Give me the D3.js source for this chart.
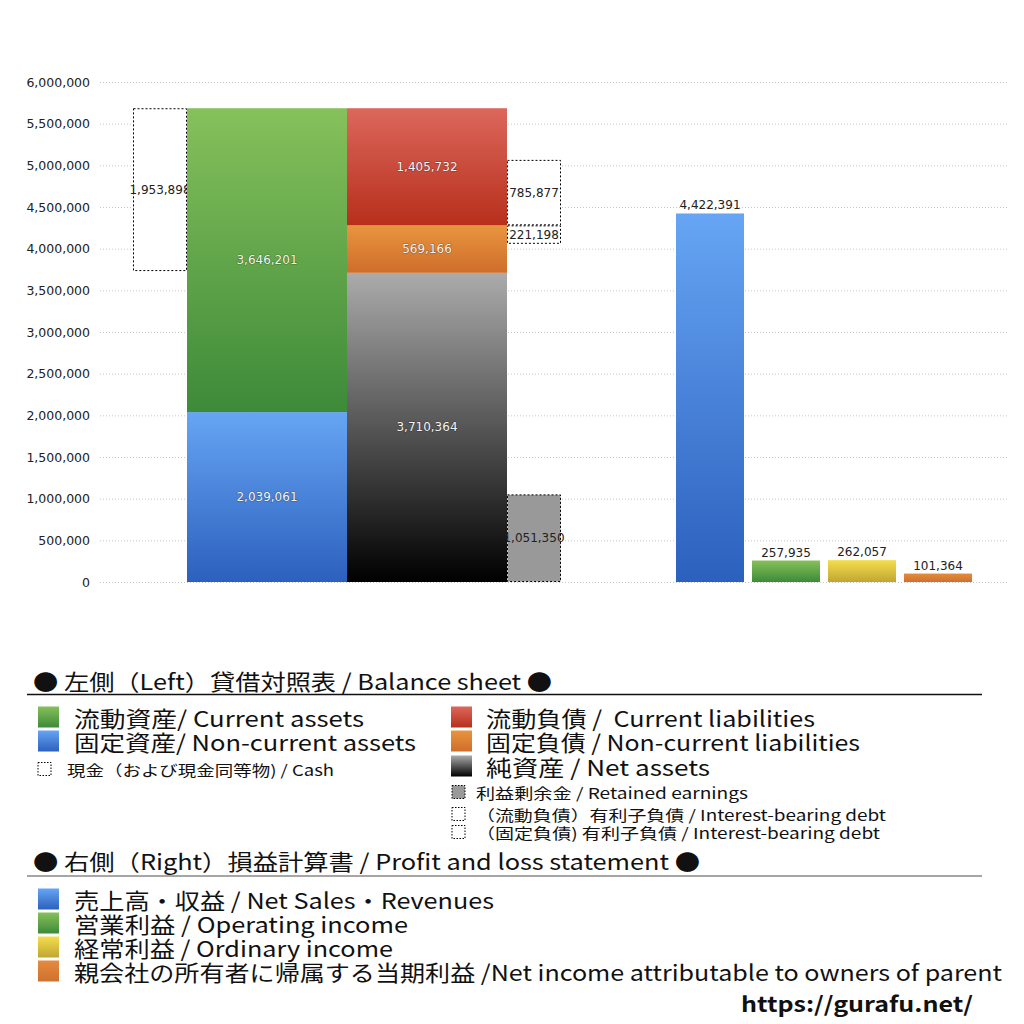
<!DOCTYPE html>
<html><head><meta charset="utf-8">
<script src="https://cdn.jsdelivr.net/npm/d3@7"></script>
<style>
html,body{margin:0;padding:0;background:#fff;}
text{font-family:"Noto Sans CJK JP","Noto Sans",sans-serif;}
text.num{font-family:"DejaVu Sans",sans-serif;}
</style></head>
<body><svg id="c" width="1024" height="1024"></svg>
<script>
// ---- data ----
const yTicks = [0,500000,1000000,1500000,2000000,2500000,3000000,3500000,4000000,4500000,5000000,5500000,6000000];
const bsColumns = ["assets","liabilities"];
const assetNames = ["固定資産","流動資産"];
const assetValues = [2039061, 3646201];
const liabNames = ["純資産","固定負債","流動負債"];
const liabValues = [3710364, 569166, 1405732];
const cashValue = 1953898;
const retainedEarnings = 1051350;
const debtCurrent = 785877;
const debtNonCurrent = 221198;
const plCategories = ["売上高・収益","営業利益","経常利益","親会社の所有者に帰属する当期利益"];
const plValues = [4422391, 257935, 262057, 101364];

const svg = d3.select("#c");
const defs = svg.append("defs");
function grad(id, top, bottom){
  const g = defs.append("linearGradient").attr("id",id).attr("x1",0).attr("y1",0).attr("x2",0).attr("y2",1);
  g.append("stop").attr("offset","0%").attr("stop-color",top);
  g.append("stop").attr("offset","100%").attr("stop-color",bottom);
}
grad("gGreen","#86c15b","#3d8a39");
grad("gBlue","#66a5f4","#2c60bd");
grad("gRed","#dc675c","#b72f1b");
grad("gOrange","#e8953f","#cf6d2b");
grad("gGray","#ababab","#000000");
grad("gYellow","#f3de4c","#c2a533");
grad("gOrange2","#e48b3d","#d0702e");

const y = d3.scaleLinear().domain([0,6000000]).range([582,82]);
const fmt = d3.format(",");

// grid + axis
const axis = d3.axisLeft(y).tickValues(yTicks).tickFormat(fmt).tickSize(0).tickPadding(0);
const ax = svg.append("g").attr("transform","translate(90,0)").call(axis);
ax.select(".domain").remove();
ax.selectAll("text").attr("class","num").attr("font-size",12.5).attr("fill","#222");
svg.append("g").selectAll("line").data(yTicks).join("line")
  .attr("x1",100).attr("x2",1007).attr("y1",d=>y(d)+0.5).attr("y2",d=>y(d)+0.5)
  .attr("stroke","#c8c8c8").attr("stroke-width",1).attr("stroke-dasharray","1,2");

// balance sheet scale
const xb = d3.scaleBand().domain(bsColumns).range([187,507]).padding(0);
const bw = xb.bandwidth();
const sideW = bw*0.3375;
const totalAssets = d3.sum(assetValues);

function dashedBox(x0, v0, v1, fill, label){
  svg.append("rect").attr("x",x0+0.5).attr("width",sideW-1)
    .attr("y",y(v1)+0.5).attr("height",y(v0)-y(v1)-1)
    .attr("fill",fill).attr("stroke","#000").attr("stroke-width",1).attr("stroke-dasharray","2,2");
  svg.append("text").attr("class","num").attr("x",x0+sideW/2).attr("y",(y(v0)+y(v1))/2)
    .attr("text-anchor","middle").attr("dominant-baseline","central")
    .attr("font-size",12).attr("fill","#222").text(fmt(label));
}
// side boxes (drawn first; main bars overlap their labels)
dashedBox(xb("assets")-sideW, totalAssets-cashValue, totalAssets, "#fff", cashValue);
const liabBottomCur = liabValues[0]+liabValues[1];
dashedBox(xb("liabilities")+bw, liabBottomCur, liabBottomCur+debtCurrent, "#fff", debtCurrent);
dashedBox(xb("liabilities")+bw, liabBottomCur-debtNonCurrent, liabBottomCur, "#fff", debtNonCurrent);
dashedBox(xb("liabilities")+bw, 0, retainedEarnings, "#999", retainedEarnings);

// stacked bars
function stack(col, values, fills){
  let acc = 0;
  const segs = values.map((v,i)=>{const s={v,y0:acc,y1:acc+v,fill:fills[i]}; acc+=v; return s;});
  const g = svg.append("g");
  g.selectAll("rect").data(segs).join("rect")
    .attr("x",xb(col)).attr("width",bw)
    .attr("y",d=>y(d.y1)).attr("height",d=>y(d.y0)-y(d.y1))
    .attr("fill",d=>`url(#${d.fill})`);
  g.selectAll("text").data(segs).join("text").attr("class","num")
    .attr("x",xb(col)+bw/2).attr("y",d=>(y(d.y0)+y(d.y1))/2)
    .attr("text-anchor","middle").attr("dominant-baseline","central")
    .attr("font-size",12).attr("fill","#f4f4f4")
    .style("paint-order","stroke").attr("stroke","rgba(0,0,0,0.3)").attr("stroke-width",1.2)
    .text(d=>fmt(d.v));
}
stack("assets", assetValues, ["gBlue","gGreen"]);
stack("liabilities", liabValues, ["gGray","gOrange","gRed"]);

// profit & loss
const xp = d3.scaleBand().domain(plCategories).range([676,972]).paddingInner(8/76).paddingOuter(0);
const plFills = ["gBlue","gGreen","gYellow","gOrange2"];
svg.append("g").selectAll("rect").data(plCategories).join("rect")
  .attr("x",d=>xp(d)).attr("width",xp.bandwidth())
  .attr("y",(d,i)=>y(plValues[i])).attr("height",(d,i)=>y(0)-y(plValues[i]))
  .attr("fill",(d,i)=>`url(#${plFills[i]})`);
svg.append("g").selectAll("text").data(plCategories).join("text").attr("class","num")
  .attr("x",d=>xp(d)+xp.bandwidth()/2).attr("y",(d,i)=>y(plValues[i])-4)
  .attr("text-anchor","middle").attr("font-size",12).attr("fill","#222")
  .text((d,i)=>fmt(plValues[i]));

// ---- legend ----
const L = svg.append("g");
function txt(x, yc, s, size, w){
  const t = L.append("text").attr("x",x).attr("y",yc).attr("dominant-baseline","central")
   .attr("font-size",size).attr("fill","#111").style("white-space","pre").text(s);
  if(w) t.attr("textLength",w).attr("lengthAdjust","spacingAndGlyphs");
  return t;
}
function item(x, yc, fill, s, size, sq, dash, tx, w){
  const r = L.append("rect").attr("x",x).attr("y",yc-sq/2).attr("width",sq).attr("height",sq).attr("fill",fill);
  if(dash) r.attr("stroke","#000").attr("stroke-width",1).attr("stroke-dasharray","1.5,1.5");
  txt(tx, yc, s, size, w);
}
txt(33, 680, "● 左側（Left）貸借対照表 / Balance sheet ●", 22, 519);
L.append("line").attr("x1",27).attr("x2",982).attr("y1",694.5).attr("y2",694.5).attr("stroke","#111").attr("stroke-width",1.5);
item(38,717,"url(#gGreen)","流動資産/ Current assets",22,21,false,74,290);
item(38,741,"url(#gBlue)","固定資産/ Non-current assets",22,21,false,74,342);
item(38,769,"#fff","現金（および現金同等物) / Cash",15,13,true,67,267);
item(451,717,"url(#gRed)","流動負債 /  Current liabilities",22,21,false,486,329);
item(451,741,"url(#gOrange)","固定負債 / Non-current liabilities",22,21,false,486,374);
item(451,766,"url(#gGray)","純資産 / Net assets",22,21,false,486,224);
item(452,792,"#999","利益剰余金 / Retained earnings",15,13,true,476,272);
item(452,814,"#fff","（流動負債）有利子負債 / Interest-bearing debt",15,13,true,476,410);
item(452,832,"#fff","（固定負債) 有利子負債 / Interest-bearing debt",15,13,true,476,404);

txt(33, 860, "● 右側（Right）損益計算書 / Profit and loss statement ●", 22, 667);
L.append("line").attr("x1",27).attr("x2",982).attr("y1",876).attr("y2",876).attr("stroke","#888").attr("stroke-width",1.5);
const plLegend = ["売上高・収益 / Net Sales・Revenues","営業利益 / Operating income","経常利益 / Ordinary income","親会社の所有者に帰属する当期利益 /Net income attributable to owners of parent"];
const plLegendW = [420, 334, 319, 928];
plLegend.forEach((t,i)=> item(38, 899+i*24, `url(#${plFills[i]})`, t, 22, 21, false, 74, plLegendW[i]));

L.append("text").attr("x",973).attr("y",1003).attr("text-anchor","end").attr("dominant-baseline","central")
 .attr("font-size",21).attr("font-weight","bold").attr("fill","#111")
 .attr("textLength",232).attr("lengthAdjust","spacingAndGlyphs").text("https://gurafu.net/");
</script></body></html>
